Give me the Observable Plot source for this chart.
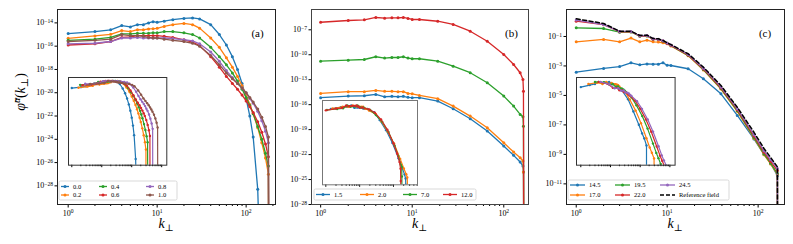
<!DOCTYPE html>
<html><head><meta charset="utf-8">
<script src="https://cdn.jsdelivr.net/npm/d3@7"></script>
<script src="https://cdn.jsdelivr.net/npm/@observablehq/plot@0.6"></script>
<style>
body{margin:0;background:#fff}
#root{position:relative;width:793px;height:244px;overflow:hidden;background:#fff}
#root svg{position:absolute;max-width:none}
</style></head><body><div id="root"></div>
<script>
// ---------- colours ----------
const COLORS = ["#1f77b4","#ff7f0e","#2ca02c","#d62728","#9467bd","#8c564b"];

// ---------- panel (a): values are log10 of phi ----------
const kA = [1,2,3,4,5,6,7,8,9,10,12,15,20,25,30,40,50,60,70,80,90,100,110,120,135,150,165,178,180];
const labelsA = ["0.0","0.2","0.4","0.6","0.8","1.0"];
const a00 = [-14.92,-14.75,-14.6,-14.23,-14.35,-14.15,-14.15,-14.0,-13.9,-13.95,-13.85,-13.72,-13.62,-13.57,-13.66,-14.15,-15.0,-15.9,-16.9,-18.0,-19.2,-20.5,-22.0,-23.8,-28.3,-40,-40,-40,-40];
const a02 = [-15.33,-15.12,-14.98,-14.66,-14.75,-14.58,-14.6,-14.52,-14.5,-14.47,-14.3,-14.15,-14.05,-14.15,-14.45,-15.3,-16.1,-17.0,-17.8,-18.6,-19.4,-20.2,-21.0,-21.8,-23.0,-24.3,-25.6,-27.0,-40];
const a04 = [-15.5,-15.4,-15.25,-14.95,-14.95,-14.9,-14.9,-14.88,-14.85,-14.85,-14.75,-14.75,-14.85,-15.0,-15.3,-16.1,-16.9,-17.6,-18.3,-19.0,-19.7,-20.4,-21.1,-21.8,-22.9,-24.0,-25.2,-26.3,-40];
const a06 = [-15.9,-15.8,-15.6,-15.25,-15.2,-15.1,-15.1,-15.1,-15.1,-15.1,-15.15,-15.25,-15.45,-15.65,-15.95,-16.9,-17.8,-18.6,-19.2,-19.7,-20.2,-20.7,-21.2,-21.7,-22.5,-23.4,-24.4,-25.5,-40];
const a08 = [-15.8,-15.75,-15.6,-15.3,-15.3,-15.25,-15.3,-15.3,-15.3,-15.3,-15.3,-15.35,-15.45,-15.55,-15.8,-16.5,-17.3,-18.1,-18.7,-19.2,-19.6,-20.0,-20.5,-20.9,-21.6,-22.4,-23.3,-24.3,-40];
const a10 = [-15.6,-15.5,-15.4,-15.0,-15.1,-15.1,-15.15,-15.25,-15.3,-15.3,-15.4,-15.5,-15.6,-15.75,-16.0,-16.8,-17.6,-18.3,-18.8,-19.2,-19.6,-20.0,-20.4,-20.8,-21.4,-22.1,-22.9,-23.8,-40];
const insetScaleA = [1, 1.67, 1.9, 2.27, 2.8, 4.1];
const yTicksA = [-14,-16,-18,-20,-22,-24,-26,-28];

// ---------- panel (b) ----------
const kB = [1,2,3,4,5,6,7,8,9,10,12,19,28,43,66,100,128,151,162,164,166];
const labelsB = ["1.5","2.0","7.0","12.0"];
const b15 = [-15.16,-14.97,-14.93,-14.77,-15.05,-15.0,-15.04,-15.0,-15.12,-15.16,-15.16,-15.57,-16.49,-17.69,-19.17,-20.97,-22.09,-22.9,-23.37,-24.1,-40];
const b20 = [-14.65,-14.44,-14.44,-14.29,-14.4,-14.4,-14.44,-14.44,-14.65,-14.69,-14.89,-15.28,-16.17,-17.37,-18.77,-20.57,-21.7,-22.37,-22.77,-24.1,-40];
const b70 = [-10.77,-10.65,-10.57,-10.24,-10.4,-10.33,-10.33,-10.24,-10.4,-10.48,-10.48,-10.77,-11.37,-12.16,-13.36,-14.97,-16.17,-17.17,-17.45,-18.6,-40];
const b120 = [-6.09,-5.88,-5.8,-5.52,-5.6,-5.56,-5.56,-5.52,-5.64,-5.76,-5.76,-5.97,-6.36,-7.17,-8.37,-9.96,-11.17,-12.16,-12.97,-14.4,-40];
const insetScaleB = [1.41, 1.58, 1.08, 1.0];
const yTicksB = [-7,-10,-13,-16,-19,-22,-25,-28];

// ---------- panel (c) ----------
const kC = [1,2,3,4,5,6,7,8,9,10,11,17,25,39,59,90,116,137,163,165];
const labelsC = ["14.5","17.0","19.5","22.0","24.5"];
const refLabel = "Reference field";
const c145 = [-3.42,-3.17,-3.04,-2.79,-2.92,-2.86,-2.88,-2.88,-2.79,-2.95,-2.97,-3.19,-3.87,-4.89,-6.36,-7.95,-9.0,-9.6,-10.45,-40];
const c170 = [-1.36,-1.2,-1.36,-1.11,-1.36,-1.25,-1.36,-1.38,-1.43,-1.5,-1.65,-2.3,-3.27,-4.57,-6.08,-7.9,-9.02,-9.65,-10.35,-40];
const c195 = [-0.41,-0.46,-0.71,-0.69,-0.98,-0.96,-1.19,-1.21,-1.32,-1.48,-1.62,-2.28,-3.24,-4.53,-6.04,-7.85,-8.97,-9.6,-10.3,-40];
const c220 = [0.04,-0.2,-0.68,-0.68,-0.97,-0.95,-1.18,-1.2,-1.31,-1.47,-1.6,-2.25,-3.2,-4.48,-5.97,-7.75,-8.85,-9.47,-10.1,-40];
const c245 = [0.11,-0.19,-0.66,-0.66,-0.95,-0.93,-1.16,-1.18,-1.29,-1.45,-1.58,-2.22,-3.15,-4.42,-5.9,-7.65,-8.75,-9.35,-9.95,-40];
const cRef = [0.2,-0.12,-0.64,-0.64,-0.93,-0.91,-1.14,-1.16,-1.27,-1.43,-1.55,-2.17,-3.08,-4.33,-5.8,-7.5,-8.6,-9.2,-9.85,-40];
const insetScaleC = [1, 1.8, 3.0, 4.0, 4.6];
const yTicksC = [-1,-3,-5,-7,-9,-11];

// ---------- shared ticks ----------
const xMajorExp = [0,1,2];
const minorTicks = [2,3,4,5,6,7,8,9,20,30,40,50,60,70,80,90,200,300,400,500,600,700,800,900,2000];
const insetMajor = [1,10,100,1000];

const SERIF = "'Liberation Serif','DejaVu Serif',serif";
const root = document.getElementById("root");
const NS = "http://www.w3.org/2000/svg";
const expFmt = d => "10^" + Math.round(Math.log10(d));

function supTicks(svg) {
  svg.querySelectorAll("text").forEach(t => {
    const m = /^10\^(-?\d+)$/.exec(t.textContent);
    if (!m) return;
    t.textContent = "";
    const a = document.createElementNS(NS, "tspan"); a.textContent = "10";
    const b = document.createElementNS(NS, "tspan");
    b.textContent = m[1].replace("-", "\u2212");
    b.setAttribute("dy", "-0.45em"); b.setAttribute("font-size", "70%");
    t.append(a, b);
  });
}

function toData(k, v, scale = 1, norm = 0) {
  return k.map((kk, i) => ({k: kk * scale, v: 10 ** (v[i] - norm)}));
}

function panel({left, width, mL, mR, xDom, yDom, yTicks, frame, series}) {
  const marks = [];
  for (const s of series) {
    const data = toData(s.k, s.v);
    marks.push(Plot.line(data, {x: "k", y: "v", stroke: s.color, strokeWidth: s.dash ? 1.5 : 1.3, strokeDasharray: s.dash, clip: true}));
    if (!s.dash) marks.push(Plot.dot(data, {x: "k", y: "v", r: 1.5, fill: s.color, clip: true}));
  }
  const lo = xDom[0], hi = xDom[1];
  const svg = Plot.plot({
    width, height: 244, marginLeft: mL, marginRight: mR, marginTop: 9, marginBottom: 40,
    style: {background: "transparent", overflow: "visible", fontFamily: SERIF, fontSize: "8px", color: "#000"},
    x: {type: "log", domain: xDom},
    y: {type: "log", domain: yDom},
    marks: [
      Plot.axisY(yTicks.map(e => 10 ** e), {tickSize: 2.5, tickPadding: 2, tickFormat: expFmt, label: null}),
      Plot.axisX(minorTicks.filter(t => t > lo && t < hi), {tickSize: 2, tickFormat: () => "", label: null}),
      Plot.axisX(xMajorExp.map(e => 10 ** e), {tickSize: 3.5, tickPadding: 2, tickFormat: expFmt, label: null}),
      ...marks,
      Plot.frame({stroke: frame, strokeWidth: 1})
    ]
  });
  supTicks(svg);
  svg.style.left = left + "px"; svg.style.top = "0px";
  root.append(svg);
}

function inset({left, top, w, h, xDom, yDom, series, frame}) {
  const m = 5;
  const marks = [Plot.frame({fill: "white", stroke: null})];
  for (const s of series) {
    const valid = s.v.filter(x => x > -39);
    const mx = Math.max(...valid);
    const data = toData(s.k, s.v, s.scale, mx);
    marks.push(Plot.line(data, {x: "k", y: "v", stroke: s.color, strokeWidth: 1.2, clip: true}));
    marks.push(Plot.dot(data, {x: "k", y: "v", r: 1.2, fill: s.color, clip: true}));
  }
  const svg = Plot.plot({
    width: w + 2 * m, height: h + 2 * m, margin: m,
    style: {background: "transparent", overflow: "visible", fontFamily: SERIF, fontSize: "6px"},
    x: {type: "log", domain: xDom},
    y: {type: "log", domain: yDom, axis: null},
    marks: [
      ...marks,
      Plot.axisX(minorTicks.filter(t => t > xDom[0] && t < xDom[1]), {tickSize: 1.5, tickFormat: () => "", label: null}),
      Plot.axisX(insetMajor.filter(t => t > xDom[0] && t < xDom[1]), {tickSize: 2.5, tickFormat: () => "", label: null}),
      Plot.frame({stroke: frame, strokeWidth: 1})
    ]
  });
  svg.style.left = (left - m) + "px"; svg.style.top = (top - m) + "px";
  root.append(svg);
}

// ----- panel (a)
const seriesA = [a00, a02, a04, a06, a08, a10].map((v, i) => ({k: kA, v, color: COLORS[i], scale: insetScaleA[i]}));
panel({left: 0, width: 280, mL: 57, mR: 5, xDom: [10 ** -0.12, 10 ** 2.33], yDom: [10 ** -29.6, 10 ** -12.85], yTicks: yTicksA, frame: "#222", series: seriesA});
inset({left: 67.7, top: 77.3, w: 98.3, h: 87.7, xDom: [10 ** -0.11, 10 ** 3.17], yDom: [10 ** -15.9, 10 ** 0.64], series: seriesA, frame: "#333"});

// ----- panel (b)
const seriesB = [b15, b20, b70, b120].map((v, i) => ({k: kB, v, color: COLORS[i], scale: insetScaleB[i]}));
panel({left: 270, width: 262, mL: 41, mR: 4, xDom: [10 ** -0.1, 10 ** 2.27], yDom: [1e-28, 10 ** -4.56], yTicks: yTicksB, frame: "#444", series: seriesB});
inset({left: 321.7, top: 100, w: 95, h: 84.3, xDom: [10 ** -0.098, 10 ** 2.71], yDom: [10 ** -9.33, 10 ** 0.59], series: seriesB, frame: "#777"});

// ----- panel (c)
const seriesC = [c145, c170, c195, c220, c245].map((v, i) => ({k: kC, v, color: COLORS[i], scale: insetScaleC[i]}));
panel({left: 528, width: 265, mL: 38, mR: 9, xDom: [10 ** -0.107, 10 ** 2.29], yDom: [10 ** -12.4, 10 ** 0.83], yTicks: yTicksC, frame: "#222",
  series: [...seriesC, {k: kC, v: cRef, color: "#000", dash: "4,2.5"}]});
inset({left: 575.7, top: 77.3, w: 98.6, h: 87.7, xDom: [10 ** -0.145, 10 ** 3.175], yDom: [10 ** -10.04, 10 ** 0.53], series: seriesC, frame: "#333"});

// ---------- overlay: labels and legends ----------
const ov = d3.select(root).append("svg").attr("width", 793).attr("height", 244)
  .style("left", "0px").style("top", "0px").attr("font-family", SERIF);

const yl = ov.append("text").attr("transform", "translate(25,92) rotate(-90)").attr("text-anchor", "middle").attr("font-size", 14);
yl.append("tspan").attr("font-style", "italic").text("\u03c6\u0303");
yl.append("tspan").attr("font-size", 10).attr("dy", -5).attr("font-style", "italic").text("u");
yl.append("tspan").attr("dy", 5).text("(");
yl.append("tspan").attr("font-style", "italic").text("k");
yl.append("tspan").attr("font-size", 10).attr("dy", 3).text("\u22a5");
yl.append("tspan").attr("dy", -3).text(")");

for (const cx of [166, 419.5, 675]) {
  const t = ov.append("text").attr("x", cx).attr("y", 228).attr("text-anchor", "middle").attr("font-size", 14);
  t.append("tspan").attr("font-style", "italic").text("k");
  t.append("tspan").attr("font-size", 9.5).attr("dy", 3).text("\u22a5");
}
[["(a)", 257.5], ["(b)", 511.5], ["(c)", 765]].forEach(([s, x]) =>
  ov.append("text").attr("x", x).attr("y", 37).attr("text-anchor", "middle").attr("font-size", 11).text(s));

function legend(box, entries) {
  ov.append("rect").attr("x", box.x).attr("y", box.y).attr("width", box.w).attr("height", box.h).attr("rx", 1.5)
    .attr("fill", "white").attr("fill-opacity", 0.85).attr("stroke", "#cfcfcf").attr("stroke-width", 0.8);
  for (const e of entries) {
    ov.append("line").attr("x1", e.x).attr("x2", e.x + e.len).attr("y1", e.y).attr("y2", e.y)
      .attr("stroke", e.color).attr("stroke-width", e.dash ? 1.4 : 1.3).attr("stroke-dasharray", e.dash || null);
    if (!e.dash) ov.append("circle").attr("cx", e.x + e.len / 2).attr("cy", e.y).attr("r", 1.5).attr("fill", e.color);
    ov.append("text").attr("x", e.x + e.len + 4).attr("y", e.y).attr("dy", "0.33em").attr("font-size", 6.5).text(e.label);
  }
}
const colsA = [61, 99, 146], rowsA = [186.5, 195];
legend({x: 59, y: 181, w: 118, h: 19}, labelsA.map((l, i) => ({label: l, color: COLORS[i], x: colsA[Math.floor(i / 2)], y: rowsA[i % 2], len: 8})));
const colsB = [316, 360, 403, 443];
legend({x: 314, y: 189, w: 162, h: 11}, labelsB.map((l, i) => ({label: l, color: COLORS[i], x: colsB[i], y: 194.5, len: 14})));
const colsC = [570, 615, 660], rowsC = [185, 195];
legend({x: 568, y: 180, w: 161, h: 20}, [...labelsC, refLabel].map((l, i) => ({label: l, color: i < 5 ? COLORS[i] : "#000", dash: i < 5 ? null : "4,2", x: colsC[Math.floor(i / 2)], y: rowsC[i % 2], len: 15})));
</script></body></html>
